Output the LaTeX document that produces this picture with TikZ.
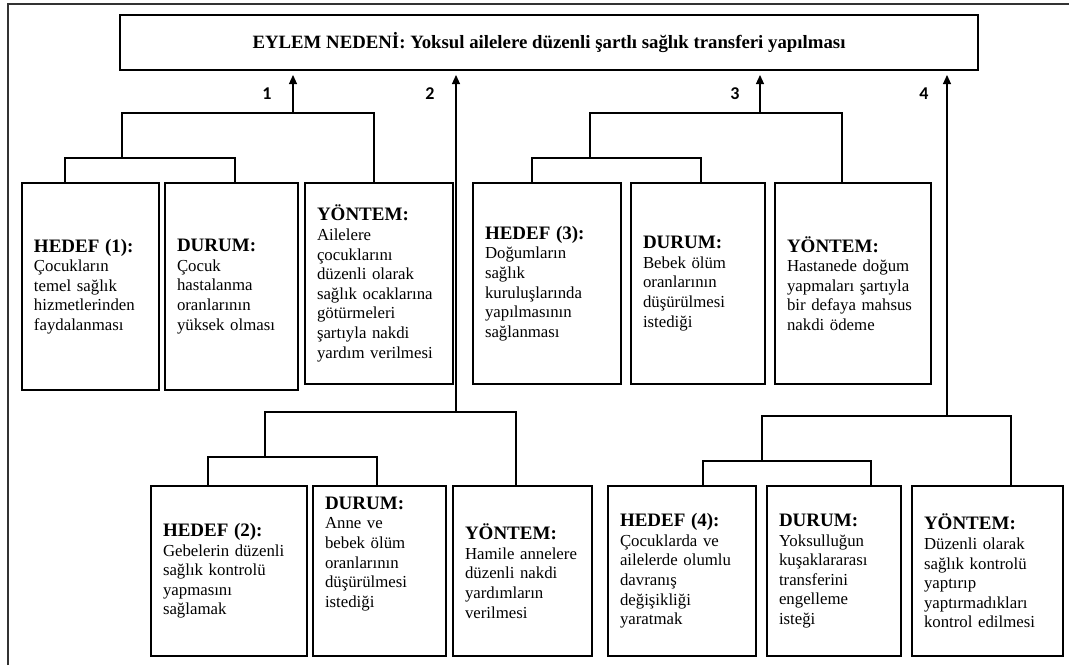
\documentclass[tikz,border=0pt]{standalone}
\usepackage{fontspec}
\setmainfont{Liberation Serif}
\newfontfamily\rakamfont{Carlito}
\usetikzlibrary{arrows.meta}

\newcommand{\baslik}[1]{{\fontsize{19}{19.5}\selectfont\bfseries #1}}

\tikzset{
  kutu/.style 2 args={draw, line width=1.6pt, rectangle, anchor=north west, outer sep=0pt,
    text width=#1, minimum height=#2, inner xsep=12pt, inner ysep=4pt, align=left,
    font=\fontsize{16.8}{19.6}\selectfont},
  ustkutu/.style={draw, line width=1.6pt, rectangle, anchor=north west, outer sep=0pt,
    minimum width=858pt, minimum height=55pt, font=\fontsize{18.8}{20}\selectfont\bfseries},
  bag/.style={line width=1.1pt},
  ok/.style={line width=1.1pt, -{Triangle[length=9pt,width=8pt]}, shorten >=5pt},
  rakam/.style={font=\fontsize{18}{18}\selectfont\rakamfont\bfseries},
  cerceve/.style={line width=1.8pt, black!80}
}

\begin{document}
\begin{tikzpicture}[x=1pt,y=-1pt]
  \useasboundingbox (0,0) rectangle (1069,665);
  \draw[cerceve] (8,665) -- (8,4) -- (1069,4);

  \node[ustkutu] (eylem) at (120,15) {EYLEM NEDENİ: Yoksul ailelere düzenli şartlı sağlık transferi yapılması};

  % ust sira
  \node[kutu={113pt}{207pt}] (h1) at (22,183) {\baslik{HEDEF (1):}\\ Çocukların\\ temel sağlık\\ hizmetlerinden\\ faydalanması};
  \node[kutu={109pt}{207pt}] (d1) at (165,183) {\baslik{DURUM:}\\ Çocuk\\ hastalanma\\ oranlarının\\ yüksek olması};
  \node[kutu={124pt}{201pt}] (y1) at (305,183) {\baslik{YÖNTEM:}\\ Ailelere\\ çocuklarını\\ düzenli olarak\\ sağlık ocaklarına\\ götürmeleri\\ şartıyla nakdi\\ yardım verilmesi};
  \node[kutu={124pt}{201pt}] (h3) at (473,183) {\baslik{HEDEF (3):}\\ Doğumların\\ sağlık\\ kuruluşlarında\\ yapılmasının\\ sağlanması};
  \node[kutu={110pt}{201pt}] (d3) at (631,183) {\baslik{DURUM:}\\ Bebek ölüm\\ oranlarının\\ düşürülmesi\\ istediği};
  \node[kutu={132pt}{201pt}] (y3) at (775,183) {\baslik{YÖNTEM:}\\ Hastanede doğum\\ yapmaları şartıyla\\ bir defaya mahsus\\ nakdi ödeme};

  % alt sira
  \node[kutu={132pt}{170pt}] (h2) at (151,486) {\baslik{HEDEF (2):}\\ Gebelerin düzenli\\ sağlık kontrolü\\ yapmasını\\ sağlamak};
  \node[kutu={109pt}{170pt}, text depth=136pt] (d2) at (313,486) {\baslik{DURUM:}\\ Anne ve\\ bebek ölüm\\ oranlarının\\ düşürülmesi\\ istediği};
  \node[kutu={115pt}{170pt}] (y2) at (453,486) {\baslik{YÖNTEM:}\\ Hamile annelere\\ düzenli nakdi\\ yardımların\\ verilmesi};
  \node[kutu={124pt}{170pt}] (h4) at (608,486) {\baslik{HEDEF (4):}\\ Çocuklarda ve\\ ailelerde olumlu\\ davranış\\ değişikliği\\ yaratmak};
  \node[kutu={110pt}{170pt}] (d4) at (767,486) {\baslik{DURUM:}\\ Yoksulluğun\\ kuşaklararası\\ transferini\\ engelleme\\ isteği};
  \node[kutu={127pt}{170pt}] (y4) at (912,486) {\baslik{YÖNTEM:}\\ Düzenli olarak\\ sağlık kontrolü\\ yaptırıp\\ yaptırmadıkları\\ kontrol edilmesi};

  % baglantilar
  \coordinate (k1) at (122,158);
  \coordinate (u1) at (122,113);
  \coordinate (a1) at (293,113);
  \draw[bag] ([xshift=-25.5pt]h1.north) |- (k1) -| ([xshift=3.5pt]d1.north);
  \draw[bag] (k1) -- (u1) -| ([xshift=-5pt]y1.north);
  \draw[ok] (a1) -- (a1 |- eylem.south);

  \coordinate (k2) at (265,457);
  \coordinate (u2) at (265,412);
  \coordinate (a2) at (456,412);
  \draw[bag] ([xshift=-21pt]h2.north) |- (k2) -| ([xshift=-2.5pt]d2.north);
  \draw[bag] (k2) -- (u2) -| ([xshift=-6.5pt]y2.north);
  \draw[ok] (a2) -- (a2 |- eylem.south);

  \coordinate (k3) at (590,158);
  \coordinate (u3) at (590,113);
  \coordinate (a3) at (760,113);
  \draw[bag] ([xshift=-15pt]h3.north) |- (k3) -| ([xshift=3pt]d3.north);
  \draw[bag] (k3) -- (u3) -| ([xshift=-11pt]y3.north);
  \draw[ok] (a3) -- (a3 |- eylem.south);

  \coordinate (k4) at (762,461);
  \coordinate (u4) at (762,416);
  \coordinate (a4) at (947,416);
  \draw[bag] ([xshift=21pt]h4.north) |- (k4) -| ([xshift=37pt]d4.north);
  \draw[bag] (k4) -- (u4) -| ([xshift=23.5pt]y4.north);
  \draw[ok] (a4) -- (a4 |- eylem.south);

  \node[rakam] (n1) at (267,94) {1};
  \node[rakam] (n2) at (430,94) {2};
  \node[rakam] (n3) at (735,94) {3};
  \node[rakam] (n4) at (924,94) {4};
\end{tikzpicture}
\end{document}
